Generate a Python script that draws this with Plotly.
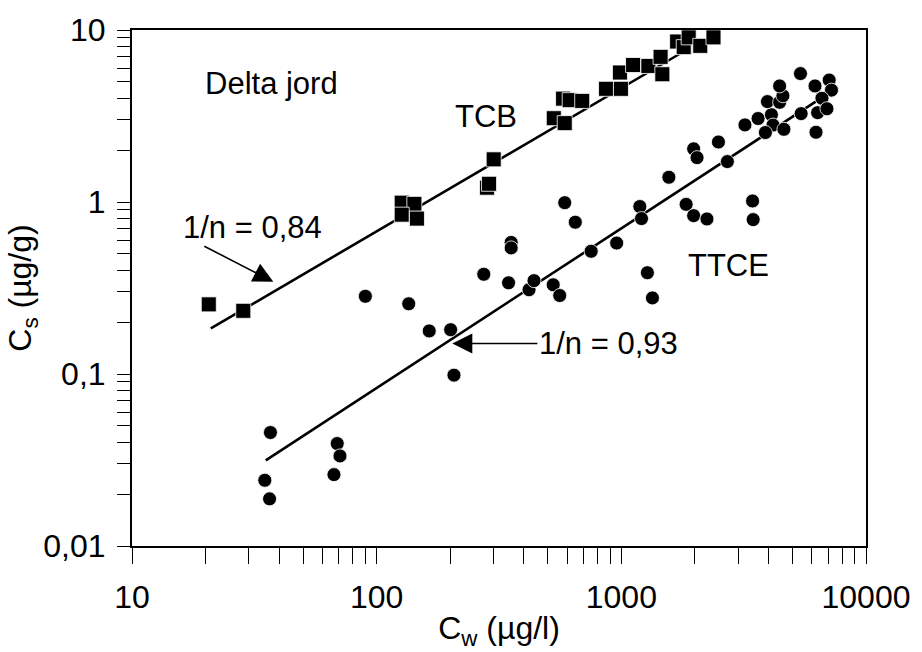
import plotly.graph_objects as go

# ---------------- data ----------------
tcb_x = [20.6, 28.5, 126.6, 142.6, 126.6, 146.1, 282.6, 288, 300.8, 529.6, 587, 578, 615, 692,
         866, 996, 987, 1117, 1290, 1447, 1471, 1691, 1799, 1885, 2102, 2380]
tcb_y = [0.254, 0.233, 0.991, 0.975, 0.844, 0.801, 1.211, 1.276, 1.77, 3.07, 2.874, 3.99, 3.91, 3.87,
         4.55, 4.55, 5.66, 6.26, 6.18, 6.98, 5.53, 8.57, 7.95, 9.06, 8.09, 9.06]

ttce_x = [34.9, 36.5, 36.8, 66.9, 69.0, 70.8, 89.9, 135.2, 164, 200.6, 207, 274, 346, 354.6, 354.6,
          419.5, 439.6, 526.6, 560, 587, 648.4, 752.9, 957, 1190, 1209, 1278, 1340, 1564, 1840, 1975,
          2238, 1975, 2039, 2494, 2713, 3438, 3458, 3200, 3622, 4106, 4168, 4617, 3880, 3955, 4436,
          4575, 4436, 5397, 5432, 6188, 7073, 7226, 6607, 6342, 6923, 6247]
ttce_y = [0.0241, 0.0188, 0.0457, 0.026, 0.0394, 0.0334, 0.283, 0.256, 0.178, 0.181, 0.0985, 0.380,
          0.339, 0.582, 0.541, 0.309, 0.349, 0.330, 0.286, 0.991, 0.763, 0.517, 0.577, 0.941, 0.801,
          0.388, 0.277, 1.393, 0.969, 0.833, 0.797, 2.037, 1.811, 2.233, 1.718, 1.014, 0.790, 2.808,
          3.057, 3.22, 2.80, 2.646, 2.535, 3.834, 3.80, 4.148, 4.729, 5.58, 3.264, 4.729, 5.114, 4.47,
          4.009, 3.307, 3.485, 2.545]

# Freundlich fit lines (end points)
tcb_fit_x = [21.0, 1828]
tcb_fit_y = [0.184, 7.60]
ttce_fit_x = [35.2, 6943]
ttce_fit_y = [0.0315, 4.24]

x_tickvals = [10, 100, 1000, 10000]
x_ticktext = ["10", "100", "1000", "10000"]
y_tickvals = [0.01, 0.1, 1, 10]
y_ticktext = ["0,01", "0,1", "1", "10"]

# ---------------- figure ----------------
FONT = "Liberation Sans, Arial, sans-serif"
L, R, T, B = 132, 50, 25, 100
W, H = 922, 652
PW, PH = W - L - R, H - T - B


def px(xp):
    return (xp - L) / PW


def py(yp):
    return (H - B - yp) / PH


fig = go.Figure()

fig.add_trace(go.Scatter(x=tcb_fit_x, y=tcb_fit_y, mode="lines",
                         line=dict(color="black", width=2.6), showlegend=False, hoverinfo="skip"))
fig.add_trace(go.Scatter(x=ttce_fit_x, y=ttce_fit_y, mode="lines",
                         line=dict(color="black", width=2.6), showlegend=False, hoverinfo="skip"))
fig.add_trace(go.Scatter(x=tcb_x, y=tcb_y, mode="markers", name="TCB",
                         marker=dict(symbol="square", size=15, color="black",
                                     line=dict(color="white", width=0.8)),
                         showlegend=False))
fig.add_trace(go.Scatter(x=ttce_x, y=ttce_y, mode="markers", name="TTCE",
                         marker=dict(symbol="circle", size=14, color="black",
                                     line=dict(color="white", width=0.8)),
                         showlegend=False))

axis_common = dict(
    type="log",
    showgrid=False,
    zeroline=False,
    showline=True,
    linecolor="black",
    linewidth=2,
    mirror=True,
    ticks="outside",
    tickcolor="black",
    tickwidth=1,
)

fig.update_xaxes(
    **axis_common,
    range=[1, 4],
    tickvals=x_tickvals,
    ticktext=x_ticktext,
    ticklen=16,
    ticklabelstandoff=6,
    tickfont=dict(family=FONT, size=32, color="black"),
    minor=dict(dtick="D1", ticks="outside", ticklen=16, tickcolor="black", tickwidth=1, showgrid=False),
    title=dict(text="C<sub>w</sub> (µg/l)", font=dict(family=FONT, size=32, color="black"), standoff=2),
)
fig.update_yaxes(
    **axis_common,
    range=[-2, 1],
    tickvals=y_tickvals,
    ticktext=y_ticktext,
    ticklen=13,
    ticklabelstandoff=5,
    tickfont=dict(family=FONT, size=32, color="black"),
    minor=dict(dtick="D1", ticks="outside", ticklen=13, tickcolor="black", tickwidth=1, showgrid=False),
    title=dict(text="C<sub>s</sub> (µg/g)", font=dict(family=FONT, size=32, color="black"), standoff=2),
)

tf = dict(family=FONT, size=31, color="black")
annos = [
    dict(text="Delta jord", x=px(204), y=py(80), xanchor="left", yanchor="middle"),
    dict(text="TCB", x=px(456), y=py(113), xanchor="left", yanchor="middle"),
    dict(text="TTCE", x=px(691), y=py(266), xanchor="left", yanchor="middle"),
    dict(text="1/n = 0,84", x=px(181), y=py(227), xanchor="left", yanchor="middle"),
]
for a in annos:
    fig.add_annotation(xref="paper", yref="paper", showarrow=False, font=tf, **a)

# "1/n = 0,93" label with its arrow pointing left to the TTCE fit line
fig.add_annotation(x=2.3093, y=-0.8228, xref="x", yref="y", text="1/n = 0,93", font=tf,
                   showarrow=True, ax=156, ay=0, standoff=0, startstandoff=0,
                   arrowhead=2, arrowsize=2.5, arrowwidth=1.6, arrowcolor="black")
# arrow from "1/n = 0,84" to the TCB fit line
fig.add_annotation(x=1.5776, y=-0.4634, xref="x", yref="y", text=" ", showarrow=True,
                   ax=-72, ay=-37, arrowhead=2, arrowsize=2.5, arrowwidth=1.6, arrowcolor="black")

fig.update_layout(
    width=W, height=H,
    margin=dict(l=L, r=R, t=T, b=B),
    paper_bgcolor="white",
    plot_bgcolor="white",
    showlegend=False,
    font=dict(family=FONT, color="black"),
)

fig.write_html("out.html")
